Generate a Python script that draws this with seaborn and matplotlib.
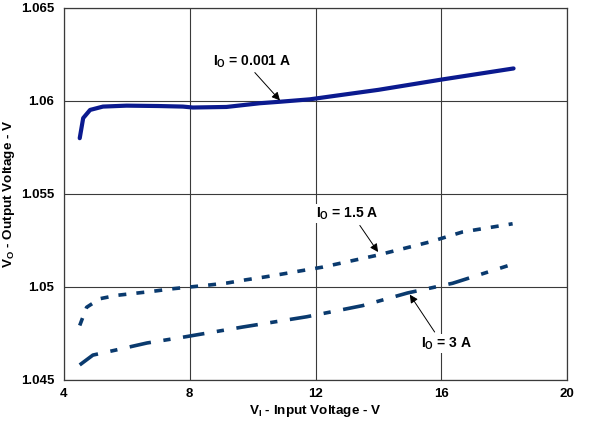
import numpy as np
import pandas as pd
import matplotlib
matplotlib.use("Agg")
import matplotlib.pyplot as plt
import seaborn as sns

# ---- data ----
vi_001 = [4.5, 4.61, 4.83, 5.24, 5.99, 7.0, 7.78, 8.1, 9.17, 10.23, 10.87, 11.82, 12.5, 14.0, 16.0, 18.3]
vo_001 = [1.0580, 1.05908, 1.05952, 1.05970, 1.05975, 1.05973, 1.05970, 1.05965, 1.05968, 1.05988,
          1.05996, 1.06009, 1.06025, 1.06060, 1.06115, 1.06175]

vi_15 = [4.5, 4.72, 5.14, 5.67, 6.25, 6.83, 7.42, 8.0, 8.53, 9.17, 9.8, 10.39, 10.92, 11.5, 12.23,
         13.94, 15.63, 16.68, 18.27]
vo_15 = [1.04793, 1.04891, 1.04937, 1.04955, 1.04966, 1.04977, 1.04990, 1.05000, 1.05009, 1.05021,
         1.05039, 1.05054, 1.05069, 1.05086, 1.05107, 1.05170, 1.05242, 1.05296, 1.05340]

vi_3 = [4.5, 4.92, 5.62, 6.64, 7.78, 9.69, 11.72, 13.5, 14.93, 16.36, 18.11]
vo_3 = [1.04581, 1.04634, 1.04660, 1.04699, 1.04730, 1.04785, 1.04840, 1.04900, 1.04968, 1.05020, 1.05114]

x_ticks = [4, 8, 12, 16, 20]
y_ticks = [1.045, 1.05, 1.055, 1.06, 1.065]
y_tick_labels = ["1.045", "1.05", "1.055", "1.06", "1.065"]

sns.set_theme(style="white")
plt.rcParams["font.family"] = ["Liberation Sans", "DejaVu Sans"]
plt.rcParams["mathtext.fontset"] = "custom"
plt.rcParams["mathtext.rm"] = "Liberation Sans:bold"
plt.rcParams["mathtext.it"] = "Liberation Sans:bold"
plt.rcParams["mathtext.bf"] = "Liberation Sans:bold"

fig = plt.figure(figsize=(6.01, 4.28), dpi=100)
ax = fig.add_axes([64 / 601, 1 - 380 / 428, (567 - 64) / 601, (380 - 8) / 428])

d1 = pd.DataFrame({"VI": vi_001, "VO": vo_001})
d2 = pd.DataFrame({"VI": vi_15, "VO": vo_15})
d3 = pd.DataFrame({"VI": vi_3, "VO": vo_3})

sns.lineplot(data=d1, x="VI", y="VO", ax=ax, color="#0b1a8f", linewidth=3.0, zorder=3)
sns.lineplot(data=d2, x="VI", y="VO", ax=ax, color="#0a3a6e", linewidth=2.6, zorder=3)
sns.lineplot(data=d3, x="VI", y="VO", ax=ax, color="#0a3a6e", linewidth=2.6, zorder=3)
lines = ax.get_lines()
lines[1].set_dashes([2.2, 2.8])
lines[2].set_dashes([6, 3.5, 2.0, 3.5])
for l in lines:
    l.set_solid_joinstyle("round")

ax.set_xlim(4, 20)
ax.set_ylim(1.045, 1.065)
ax.set_xticks(x_ticks)
ax.set_yticks(y_ticks)
ax.set_yticklabels(y_tick_labels)
ax.grid(True, color="#3a3a3a", linewidth=0.8)
for s in ax.spines.values():
    s.set_color("#3a3a3a")
    s.set_linewidth(0.9)
ax.tick_params(axis="y", direction="out", length=5, color="#3a3a3a", width=0.8, pad=2,
               labelsize=9.5)
ax.tick_params(axis="x", length=0, pad=6, labelsize=9.5)
for t in ax.get_xticklabels() + ax.get_yticklabels():
    t.set_fontweight("bold")
    t.set_color("black")

ax.set_xlabel(r"V$_\mathregular{I}$ - Input Voltage - V", fontsize=9.7, fontweight="bold",
              color="black", labelpad=2)
ax.set_ylabel(r"V$_\mathregular{O}$ - Output Voltage - V", fontsize=9.7, fontweight="bold",
              color="black")
ax.yaxis.set_label_coords(-0.094, 0.5)

tkw = dict(fontsize=10, fontweight="bold", color="black", ha="center", va="center")
akw = dict(arrowstyle="-|>", color="black", lw=0.7, mutation_scale=12,
           shrinkA=0, shrinkB=0)

ax.annotate("", xy=(10.87, 1.06003), xytext=(10.07, 1.06153), arrowprops=akw, zorder=4)
ax.text(9.98, 1.06212, r"I$_\mathregular{O}$ = 0.001 A", **tkw, zorder=5)

ax.annotate("", xy=(13.99, 1.05188), xytext=(13.41, 1.05331), arrowprops=akw, zorder=4)
ax.text(13.02, 1.05394, r"I$_\mathregular{O}$ = 1.5 A", **tkw, zorder=5,
        bbox=dict(facecolor="white", edgecolor="none", pad=1))

ax.annotate("", xy=(15.0, 1.04959), xytext=(15.79, 1.04758), arrowprops=akw, zorder=4)
ax.text(16.16, 1.04695, r"I$_\mathregular{O}$ = 3 A", **tkw, zorder=5,
        bbox=dict(facecolor="white", edgecolor="none", pad=1))

fig.savefig("out.png", dpi=100)
